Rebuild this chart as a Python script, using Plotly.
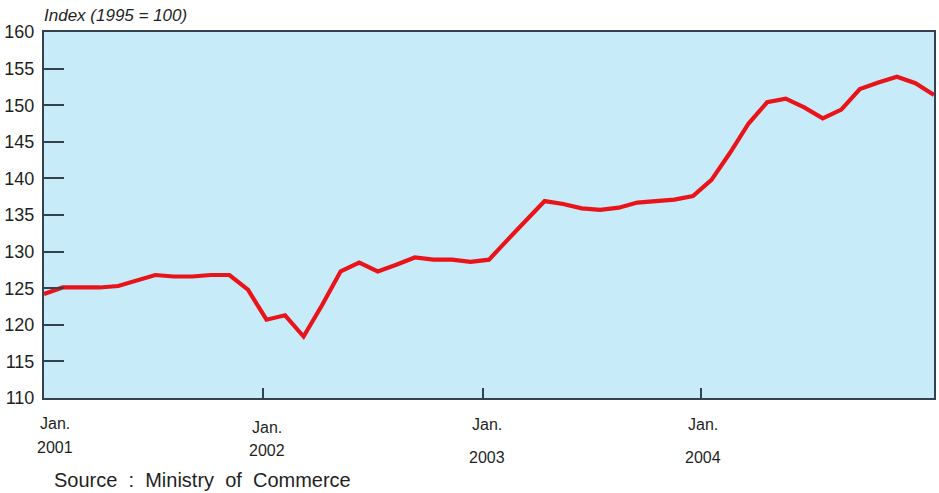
import plotly.graph_objects as go

# Monthly price index, Jan 2001 .. Jan 2005 (1995 = 100)
month_index = list(range(49))
index_values = [
    124.2, 125.1, 125.1, 125.1, 125.3, 126.0, 126.8, 126.6, 126.6, 126.8,
    126.8, 124.8, 120.7, 121.3, 118.4, 122.7, 127.3, 128.5, 127.3, 128.2,
    129.2, 128.9, 128.9, 128.6, 128.9, 131.6, 134.2, 136.9, 136.5, 135.9,
    135.7, 136.0, 136.7, 136.9, 137.1, 137.6, 139.8, 143.5, 147.5, 150.4,
    150.9, 149.7, 148.2, 149.4, 152.2, 153.1, 153.9, 153.0, 151.4,
]

y_ticks = [110, 115, 120, 125, 130, 135, 140, 145, 150, 155, 160]
jan_tick_pos = [11.81, 23.67, 35.43]
year_labels = ["2001", "2002", "2003", "2004"]
year_label_pos = [0.6, 12.0, 23.9, 35.55]
jan_y = [423, 427, 424, 424]
year_y = [447, 450, 457, 457]

W, H = 939, 493
M_L, M_R, M_T, M_B = 44, 3, 32, 95
FONT = "Liberation Sans, Arial, sans-serif"
INK = "#1f1f1f"
FRAME = "#34424f"

fig = go.Figure()
fig.add_trace(go.Scatter(
    x=month_index, y=index_values, mode="lines",
    line=dict(color="#e8141a", width=4.2),
    hoverinfo="skip", showlegend=False,
))

fig.update_layout(
    width=W, height=H,
    margin=dict(l=M_L, r=M_R, t=M_T, b=M_B, pad=0),
    paper_bgcolor="white",
    plot_bgcolor="#c7ebf8",
    font=dict(family=FONT, color=INK),
    showlegend=False,
)

fig.update_xaxes(
    range=[0, 48], showgrid=False, zeroline=False,
    showline=True, linecolor=FRAME, linewidth=2, mirror=True,
    ticks="inside", ticklen=10, tickwidth=2, tickcolor=FRAME,
    tickvals=jan_tick_pos, ticktext=["", "", ""],
)
fig.update_yaxes(
    range=[110, 160], showgrid=False, zeroline=False,
    showline=True, linecolor=FRAME, linewidth=2, mirror=True,
    ticks="inside", ticklen=20, tickwidth=2, tickcolor=FRAME,
    tickvals=y_ticks, ticktext=[str(v) for v in y_ticks],
    tickfont=dict(size=18, color=INK, family=FONT),
    ticklabelstandoff=4,
)

plot_h = H - M_T - M_B


def to_paper_y(py):
    return (H - M_B - py) / plot_h


for pos, yr, jy, yy in zip(year_label_pos, year_labels, jan_y, year_y):
    fig.add_annotation(x=pos, y=to_paper_y(jy), xref="x", yref="paper",
                       text="Jan.", showarrow=False, xanchor="center",
                       yanchor="middle", font=dict(size=16, color=INK))
    fig.add_annotation(x=pos, y=to_paper_y(yy), xref="x", yref="paper",
                       text=yr, showarrow=False, xanchor="center",
                       yanchor="middle", font=dict(size=16, color=INK))

fig.add_annotation(x=(42 - M_L) / (W - M_L - M_R), y=to_paper_y(15),
                   xref="paper", yref="paper",
                   text="<i>Index (1995 = 100)</i>", showarrow=False,
                   xanchor="left", yanchor="middle",
                   font=dict(size=17, color=INK))

fig.add_annotation(x=(52 - M_L) / (W - M_L - M_R), y=to_paper_y(480),
                   xref="paper", yref="paper",
                   text="Source  :  Ministry  of  Commerce", showarrow=False,
                   xanchor="left", yanchor="middle",
                   font=dict(size=20, color=INK))

fig.write_html("out.html")
